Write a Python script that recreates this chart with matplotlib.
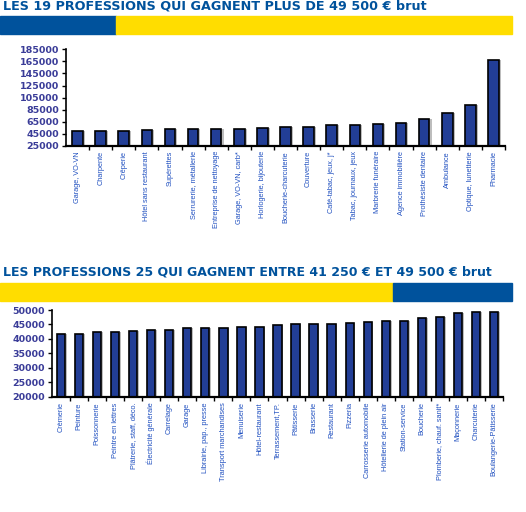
import numpy as np
import matplotlib
matplotlib.use("Agg")
from matplotlib import pyplot as plt
from matplotlib.patches import Rectangle

# data
metiers_haut = ["Garage, VO-VN", "Charpente", "Crêperie", "Hôtel sans restaurant", "Supérettes",
                "Serrurerie, métallerie", "Entreprise de nettoyage", "Garage, VO-VN, carb*",
                "Horlogerie, bijouterie", "Boucherie-charcuterie", "Couverture", "Café-tabac, jeux, j*",
                "Tabac, journaux, jeux", "Marbrerie funéraire", "Agence immobilière",
                "Prothésiste dentaire", "Ambulance", "Optique, lunetterie", "Pharmacie"]
revenus_haut = [49600, 49500, 50000, 51100, 52700, 52700, 52700, 52700, 54400, 56000,
                56600, 59900, 59900, 61000, 62700, 69300, 79300, 92600, 166800]

metiers_bas = ["Crèmerie", "Peinture", "Poissonnerie", "Peintre en lettres", "Plâtrerie, staff, déco.",
               "Électricité générale", "Carrelage", "Garage", "Librairie, pap., presse",
               "Transport marchandises", "Menuiserie", "Hôtel-restaurant", "Terrassement,TP.",
               "Pâtisserie", "Brasserie", "Restaurant", "Pizzeria", "Carrosserie automobile",
               "Hôtellerie de plein air", "Station-service", "Boucherie", "Plomberie, chauf. sanit*",
               "Maçonnerie", "Charcuterie", "Boulangerie-Pâtisserie"]
revenus_bas = [41700, 41700, 42270, 42390, 42620, 42960, 43200, 43660, 43660, 43890,
               44120, 44120, 44700, 45040, 45040, 45160, 45500, 45730, 46080, 46080,
               47120, 47470, 48850, 49200, 49200]

titre_haut = "LES 19 PROFESSIONS QUI GAGNENT PLUS DE 49 500 € brut"
titre_bas = "LES PROFESSIONS 25 QUI GAGNENT ENTRE 41 250 € ET 49 500 € brut"

W, H = 526, 512
BLEU = "#00529C"
JAUNE = "#FFDD00"
BARRE = "#223E96"
label_font = ["Liberation Sans Narrow", "Liberation Sans", "DejaVu Sans"]

fig = plt.figure(figsize=(W / 100, H / 100), dpi=100)


def px_axes(x0, y0, x1, y1):
    return fig.add_axes([x0 / W, 1 - y1 / H, (x1 - x0) / W, (y1 - y0) / H])


def band(y0, y1, split, left_col, right_col):
    fig.patches.append(Rectangle((0, 1 - y1 / H), split / W, (y1 - y0) / H,
                                 transform=fig.transFigure, color=left_col, zorder=0))
    fig.patches.append(Rectangle((split / W, 1 - y1 / H), (512 - split) / W, (y1 - y0) / H,
                                 transform=fig.transFigure, color=right_col, zorder=0))


def chart(ax, labels, vals, ylo, yhi, step):
    x = np.arange(len(vals))
    ax.bar(x + 0.09, vals, width=0.46, color="#BDBDBD", zorder=1)
    ax.bar(x, vals, width=0.46, color=BARRE, edgecolor="black", linewidth=1.2, zorder=2)
    ax.set_xlim(-0.5, len(vals) - 0.5)
    ax.set_ylim(ylo, yhi)
    ax.set_yticks(np.arange(ylo, yhi + 1, step))
    ax.set_xticks(x)
    ax.set_xticklabels(labels, rotation=90, fontsize=5.3, color="#2050C0",
                       family=label_font, va="top")
    ax.set_xticks(np.arange(len(vals)) + 0.5, minor=True)
    ax.tick_params(axis="x", which="major", length=0, pad=4)
    ax.tick_params(axis="x", which="minor", length=3, width=1, direction="out")
    ax.tick_params(axis="y", length=3, width=1, direction="out", pad=2,
                   labelsize=6.8, labelcolor="#3A3C98")
    for t in ax.get_yticklabels():
        t.set_fontweight("bold")
    ax.spines["top"].set_visible(False)
    ax.spines["right"].set_visible(False)
    ax.spines["bottom"].set_linewidth(1.6)
    ax.spines["left"].set_linewidth(1.2)


# top part
fig.text(3 / W, 1 - 6 / H, titre_haut, fontsize=9.2, fontweight="bold", color=BLEU,
         family="DejaVu Sans", va="center", ha="left")
band(16, 34, 116, BLEU, JAUNE)
ax1 = px_axes(66, 49.5, 505, 145.5)
chart(ax1, metiers_haut, revenus_haut, 25000, 185000, 20000)

# bottom part
fig.text(3 / W, 1 - 272 / H, titre_bas, fontsize=9.0, fontweight="bold", color=BLEU,
         family="DejaVu Sans", va="center", ha="left")
band(283, 301, 393, JAUNE, BLEU)
ax2 = px_axes(52, 310, 503, 396.7)
chart(ax2, metiers_bas, revenus_bas, 20000, 50000, 5000)

fig.savefig("out.png", dpi=100)
plt.close(fig)
